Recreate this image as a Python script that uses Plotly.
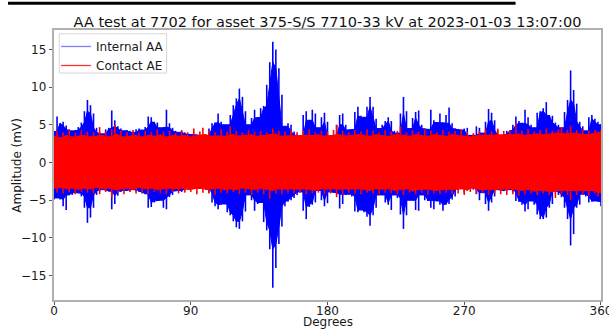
import plotly.graph_objects as go

# sampling grid (degrees) for envelope readings
degrees = list(range(0, 361, 2))

# Internal AA (blue) envelope, mV
internal_upper = [
    4.1, 6.1, 5.2, 5.4, 4.9, 4.4, 4.2, 4.3, 4.7, 5.3,
    6.8, 8.3, 7.6, 6.5, 4.6, 4.0, 3.8, 4.4, 4.6, 6.9,
    5.6, 4.8, 4.5, 4.2, 4.3, 4.2, 4.0, 4.4, 4.5, 4.3,
    4.7, 6.1, 6.0, 5.4, 5.3, 4.6, 4.7, 7.0, 5.2, 4.6,
    4.2, 4.0, 4.2, 4.0, 3.8, 3.7, 3.8, 3.7, 3.6, 3.5,
    3.6, 4.5, 5.2, 5.3, 6.5, 5.4, 5.0, 5.0, 6.3, 7.6,
    8.5, 9.8, 8.7, 6.8, 5.0, 5.9, 7.0, 6.0, 7.2, 7.5,
    10.3, 13.3, 16.0, 15.0, 12.5, 9.0, 4.8, 5.2, 5.0, 4.1,
    3.7, 3.5, 6.3, 6.8, 5.6, 7.0, 6.5, 4.6, 6.0, 6.6,
    5.4, 3.5, 3.4, 5.0, 6.3, 6.5, 5.0, 4.3, 4.4, 6.7,
    7.4, 6.2, 6.0, 7.4, 8.7, 7.4, 5.8, 4.5, 5.0, 5.5,
    6.0, 5.5, 4.2, 3.9, 6.5, 8.7, 6.8, 4.5, 5.9, 6.7,
    6.9, 5.0, 4.5, 4.4, 7.0, 5.6, 5.3, 6.5, 5.3, 6.3,
    7.3, 5.2, 4.5, 4.4, 4.3, 4.5, 4.6, 3.6, 3.6, 4.8,
    4.6, 3.9, 5.4, 7.1, 6.6, 5.6, 4.3, 3.6, 3.8, 4.2,
    4.3, 5.0, 6.1, 5.5, 5.2, 7.0, 6.0, 5.0, 4.6, 6.6,
    6.8, 7.2, 8.0, 6.3, 6.2, 5.3, 5.0, 4.6, 6.7, 8.3,
    12.2, 9.6, 7.8, 5.4, 4.8, 4.2, 6.0, 6.3, 5.8, 5.4,
    5.0,
]
internal_lower = [
    -4.9, -4.7, -4.9, -5.8, -6.3, -4.3, -4.3, -4.0, -4.1, -4.5,
    -6.0, -8.0, -7.3, -6.0, -4.3, -3.8, -3.6, -3.8, -3.8, -6.2,
    -5.5, -4.4, -3.9, -3.7, -3.7, -3.8, -3.6, -3.8, -3.9, -4.1,
    -4.2, -6.0, -5.9, -5.3, -5.1, -5.0, -6.0, -6.2, -4.6, -4.3,
    -3.8, -3.7, -3.9, -3.8, -3.5, -3.4, -3.5, -3.4, -3.5, -3.4,
    -3.5, -4.0, -5.3, -5.8, -6.2, -5.6, -5.5, -6.6, -7.0, -7.8,
    -8.6, -8.8, -7.8, -6.5, -4.3, -5.0, -6.4, -5.5, -5.3, -7.9,
    -9.0, -11.5, -16.6, -14.0, -10.8, -8.5, -5.8, -5.2, -5.0, -4.7,
    -4.3, -3.9, -6.4, -7.5, -5.9, -5.6, -5.3, -3.7, -5.0, -5.8,
    -5.4, -3.9, -4.0, -4.2, -6.1, -5.5, -4.3, -4.2, -4.5, -6.5,
    -6.6, -6.3, -6.6, -7.2, -8.4, -7.0, -6.0, -4.3, -4.3, -5.3,
    -5.6, -6.3, -4.3, -4.7, -6.9, -8.8, -7.0, -5.0, -5.0, -6.3,
    -6.4, -4.3, -5.0, -5.1, -6.0, -6.2, -5.1, -5.6, -6.4, -5.6,
    -5.5, -4.9, -4.5, -3.6, -3.4, -4.0, -3.2, -3.2, -3.6, -4.2,
    -5.0, -4.0, -5.5, -6.4, -5.3, -4.5, -3.6, -3.7, -3.8, -3.7,
    -3.6, -3.9, -5.1, -5.2, -5.6, -6.5, -6.2, -5.1, -5.6, -6.9,
    -7.5, -7.5, -7.3, -6.0, -5.5, -3.8, -4.3, -4.6, -6.0, -7.5,
    -11.0, -9.5, -6.0, -5.6, -4.2, -4.5, -5.3, -5.2, -5.1, -5.2,
    -5.8,
]

# Contact AE (red) envelope, mV
contact_upper = [
    3.5, 4.2, 3.3, 4.0, 3.6, 4.4, 3.4, 3.9, 3.5, 4.3,
    3.6, 4.1, 3.4, 4.0, 3.5, 4.7, 3.6, 4.1, 3.4, 4.4,
    5.0, 3.7, 4.2, 3.4, 4.0, 3.5, 4.3, 3.6, 3.9, 3.4,
    4.2, 3.6, 4.0, 3.5, 4.4, 3.7, 4.1, 3.4, 4.2, 3.6,
    3.9, 3.5, 4.3, 3.6, 4.0, 3.4, 4.5, 3.6, 4.1, 4.6,
    3.7, 4.2, 3.5, 4.0, 3.6, 4.4, 3.5, 4.1, 4.8, 3.7,
    4.2, 3.5, 4.0, 3.6, 4.3, 3.7, 4.1, 3.5, 4.2, 3.6,
    4.0, 3.7, 4.5, 3.8, 4.2, 3.5, 4.1, 3.6, 4.3, 3.5,
    4.0, 3.6, 4.2, 3.5, 4.4, 3.6, 4.0, 3.7, 4.2, 3.5,
    4.1, 3.6, 4.3, 5.0, 3.7, 4.2, 3.5, 4.0, 3.6, 4.3,
    3.7, 4.1, 3.6, 4.4, 3.5, 4.2, 3.7, 4.0, 3.6, 4.3,
    3.5, 4.1, 3.7, 4.2, 4.8, 3.6, 4.0, 3.5, 4.3, 3.7,
    4.1, 3.6, 4.4, 3.5, 4.2, 3.7, 4.0, 3.6, 4.3, 3.5,
    4.1, 3.7, 4.2, 3.6, 4.4, 3.5, 4.0, 3.4, 3.9, 3.6,
    4.2, 3.6, 4.4, 3.7, 4.1, 3.6, 4.5, 3.7, 4.2, 3.6,
    4.3, 3.7, 5.2, 3.8, 4.2, 3.6, 4.4, 3.7, 4.1, 3.8,
    4.3, 3.7, 4.5, 3.8, 4.2, 3.9, 4.4, 4.7, 3.8, 4.3,
    4.9, 3.9, 4.3, 3.8, 4.4, 3.7, 4.2, 3.8, 4.3, 4.0,
    4.3,
]
contact_lower = [
    -3.4, -4.0, -3.3, -4.1, -3.5, -3.9, -3.4, -4.2, -3.6, -3.9,
    -3.4, -4.0, -3.5, -4.1, -3.3, -4.2, -3.5, -3.9, -3.4, -4.6,
    -3.6, -4.0, -3.5, -4.2, -3.4, -3.9, -3.6, -4.1, -3.3, -4.0,
    -3.5, -4.2, -3.4, -3.9, -3.6, -4.1, -3.5, -4.2, -3.4, -3.9,
    -3.5, -4.1, -3.4, -4.0, -3.6, -3.9, -3.5, -4.2, -3.4, -4.0,
    -3.6, -4.1, -3.5, -4.3, -3.4, -4.0, -3.6, -4.1, -3.5, -3.9,
    -3.6, -4.2, -3.4, -4.0, -3.5, -4.3, -3.6, -4.0, -3.4, -4.2,
    -3.6, -4.8, -3.7, -4.1, -3.5, -4.2, -3.6, -4.0, -3.5, -4.1,
    -3.6, -4.0, -3.5, -4.2, -3.6, -4.1, -3.7, -4.0, -3.5, -4.2,
    -3.6, -4.1, -3.5, -4.6, -3.6, -4.2, -3.5, -4.0, -3.6, -4.1,
    -3.5, -4.2, -3.6, -4.0, -3.7, -4.1, -3.5, -4.2, -3.6, -4.0,
    -3.5, -4.1, -3.7, -4.2, -3.6, -4.3, -3.5, -4.0, -3.8, -4.2,
    -3.6, -4.0, -3.5, -4.3, -3.6, -4.1, -3.7, -4.2, -3.6, -4.0,
    -3.5, -4.2, -3.6, -4.1, -3.5, -4.3, -3.7, -3.9, -3.4, -4.1,
    -3.6, -4.0, -3.5, -4.3, -3.6, -4.1, -3.5, -4.2, -3.6, -4.3,
    -3.5, -4.2, -3.6, -4.4, -3.7, -4.2, -3.6, -4.1, -3.8, -4.3,
    -3.7, -4.1, -3.8, -4.3, -3.9, -4.7, -3.7, -4.2, -3.8, -4.3,
    -5.0, -3.8, -4.3, -3.7, -4.2, -3.8, -4.4, -3.7, -4.1, -4.5,
    -4.0,
]

x_ticks = [0, 90, 180, 270, 360]
y_ticks = [-15, -10, -5, 0, 5, 10, 15]
title_text = "AA test at 7702 for asset 375-S/S 7710-33 kV at 2023-01-03 13:07:00"
x_label = "Degrees"
y_label = "Amplitude (mV)"

for arr in (internal_upper, internal_lower, contact_upper, contact_lower):
    assert len(arr) == len(degrees), len(arr)

FONT = "DejaVu Sans"
# plot area in pixels (matches the reference frame)
L, R, T, B = 54.0, 601.5, 29.5, 300.5
W, H = 609, 329


def px_x(p):
    return (p - L) / (R - L)


def px_y(p):
    return (B - p) / (B - T)


def signal_traces(upper, lower, color):
    n = len(upper)
    # solid core: the level the dense signal reaches at every neighbouring sample
    core_u = [min(upper[max(i - 1, 0)], upper[i], upper[min(i + 1, n - 1)]) for i in range(n)]
    core_l = [max(lower[max(i - 1, 0)], lower[i], lower[min(i + 1, n - 1)]) for i in range(n)]
    core = go.Scatter(x=degrees + degrees[::-1], y=core_u + core_l[::-1],
                      mode="lines", fill="toself", fillcolor=color,
                      line=dict(color=color, width=1), hoverinfo="skip", showlegend=False)
    # individual swings reaching the full envelope at each sample
    xs, ys = [], []
    for d, u, l in zip(degrees, upper, lower):
        xs += [d, d, None]
        ys += [l, u, None]
    spikes = go.Scatter(x=xs, y=ys, mode="lines", line=dict(color=color, width=1.6),
                        hoverinfo="skip", showlegend=False)
    return [core, spikes]


fig = go.Figure()
for tr in signal_traces(internal_upper, internal_lower, "rgb(0,0,255)"):
    fig.add_trace(tr)
for tr in signal_traces(contact_upper, contact_lower, "rgb(255,0,0)"):
    fig.add_trace(tr)
# legend entries
fig.add_trace(go.Scatter(x=[None], y=[None], mode="lines", name="Internal AA",
                         line=dict(color="rgba(0,0,255,0.5)", width=1.3)))
fig.add_trace(go.Scatter(x=[None], y=[None], mode="lines", name="Contact AE",
                         line=dict(color="rgba(255,0,0,0.8)", width=1.3)))

axis_common = dict(showgrid=False, zeroline=False, showline=True, linecolor="#b0b0b0",
                   linewidth=1.5, mirror=True, ticks="outside", ticklen=3.5,
                   tickcolor="#555", tickwidth=1, automargin=False,
                   ticklabeloverflow="allow",
                   tickfont=dict(family=FONT, size=12, color="#1a1a1a"))

fig.update_layout(
    width=W, height=H,
    margin=dict(l=L, r=W - R, t=T, b=H - B, autoexpand=False),
    paper_bgcolor="white", plot_bgcolor="white",
    font=dict(family=FONT, size=12, color="#1a1a1a"),
    title=dict(text=title_text, x=0.5, xref="paper", xanchor="center",
               y=1 - 21.5 / H, yanchor="middle", automargin=False,
               font=dict(family=FONT, size=14.5, color="#111")),
    showlegend=True,
    legend=dict(x=px_x(56), y=px_y(31.5), xanchor="left", yanchor="top",
                bgcolor="rgba(0,0,0,0)", borderwidth=0,
                font=dict(family=FONT, size=12, color="#1a1a1a"),
                tracegroupgap=0, itemwidth=30),
    xaxis=dict(range=[-0.01, 360.01], tickmode="array", tickvals=x_ticks,
               ticktext=[str(t) for t in x_ticks], ticklabelstandoff=-5,
               **axis_common),
    yaxis=dict(range=[-18.23, 17.57], tickmode="array", tickvals=y_ticks,
               ticktext=[str(t).replace("-", "\u2212") for t in y_ticks],
               **axis_common),
)

# legend frame (light box like the reference)
fig.add_shape(type="rect", xref="paper", yref="paper",
              x0=px_x(59.3), x1=px_x(166.7), y0=px_y(72.7), y1=px_y(33.3),
              fillcolor="rgba(255,255,255,0.85)", line=dict(color="#d6d6d6", width=1),
              layer="above")

# axis titles
fig.add_annotation(text=x_label, xref="paper", yref="paper", x=0.5, y=px_y(323),
                   xanchor="center", yanchor="middle", showarrow=False,
                   font=dict(family=FONT, size=12, color="#1a1a1a"))
fig.add_annotation(text=y_label, xref="paper", yref="paper", x=px_x(16.7), y=px_y(165),
                   xanchor="center", yanchor="middle", textangle=-90, showarrow=False,
                   font=dict(family=FONT, size=12, color="#1a1a1a"))

# black bar at the very top of the image
fig.add_shape(type="rect", xref="paper", yref="paper",
              x0=px_x(8), x1=px_x(516), y0=px_y(4.2), y1=px_y(1.2),
              fillcolor="black", line=dict(width=0), layer="above")

fig.write_html("out.html", config={"displayModeBar": False},
               post_script="document.body.style.margin='0';")
